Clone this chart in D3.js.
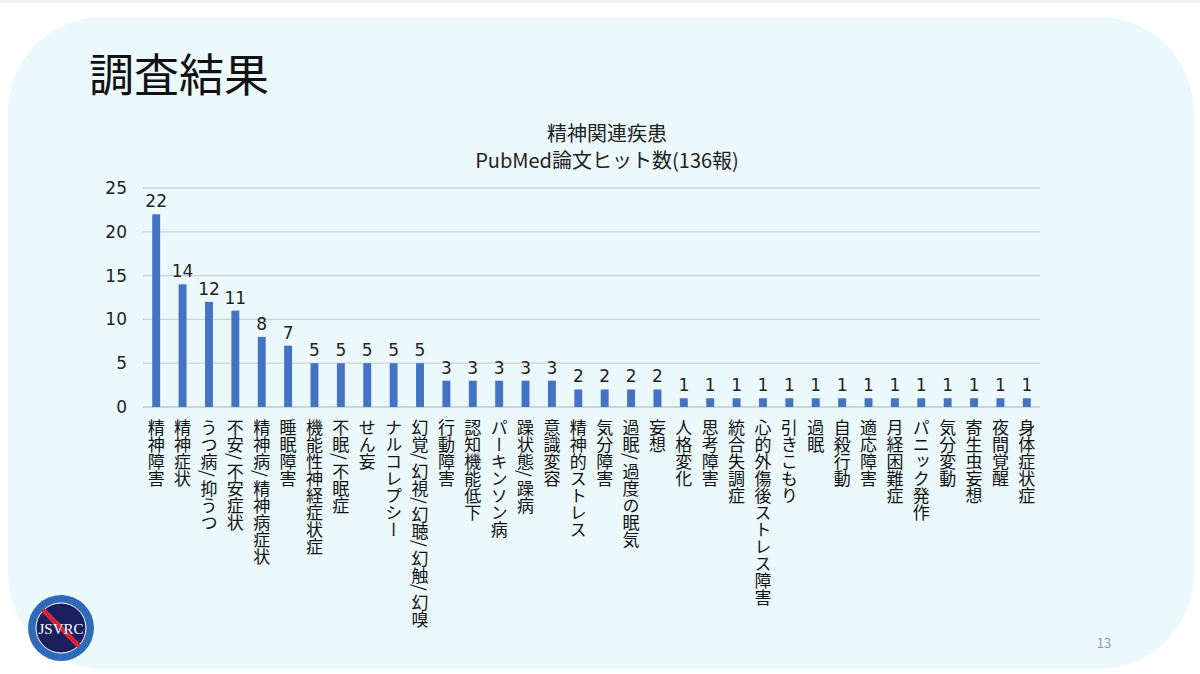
<!DOCTYPE html>
<html>
<head>
<meta charset="utf-8">
<script src="https://cdn.jsdelivr.net/npm/d3@7"></script>
<style>
  html, body { margin: 0; padding: 0; background: #fff; }
  svg { display: block; font-family: "Noto Sans CJK JP", "Noto Sans", sans-serif; }
</style>
</head>
<body>
<div id="chart"></div>
<script>
// data
const categories = [
  "精神障害", "精神症状", "うつ病/抑うつ", "不安/不安症状", "精神病/精神病症状",
  "睡眠障害", "機能性神経症状症", "不眠/不眠症", "せん妄", "ナルコレプシー",
  "幻覚/幻視/幻聴/幻触/幻嗅", "行動障害", "認知機能低下", "パーキンソン病", "躁状態/躁病",
  "意識変容", "精神的ストレス", "気分障害", "過眠/過度の眠気", "妄想",
  "人格変化", "思考障害", "統合失調症", "心的外傷後ストレス障害", "引きこもり",
  "過眠", "自殺行動", "適応障害", "月経困難症", "パニック発作",
  "気分変動", "寄生虫妄想", "夜間覚醒", "身体症状症"
];
const counts = [
  22, 14, 12, 11, 8,
  7, 5, 5, 5, 5,
  5, 3, 3, 3, 3,
  3, 2, 2, 2, 2,
  1, 1, 1, 1, 1,
  1, 1, 1, 1, 1,
  1, 1, 1, 1
];
const yTicks = [0, 5, 10, 15, 20, 25];
const titleLines = ["精神関連疾患", "PubMed論文ヒット数(136報)"];

const W = 1200, H = 674;
const plot = { left: 143, right: 1040, top: 188, bottom: 407 };
const digitFont = "\"DejaVu Sans\", sans-serif";

const svg = d3.select("#chart").append("svg")
  .attr("width", W)
  .attr("height", H);

// slide background
svg.append("rect").attr("x", 0).attr("y", 0).attr("width", W).attr("height", 3).attr("fill", "#f1f1f1");
svg.append("rect")
  .attr("x", 8).attr("y", 17)
  .attr("width", 1186).attr("height", 652)
  .attr("rx", 95).attr("ry", 95)
  .attr("fill", "#ebf9fc");

svg.append("text")
  .attr("x", 89).attr("y", 92)
  .attr("font-size", 45)
  .attr("fill", "#111")
  .text("調査結果");

// chart title, one text per line
svg.append("g")
  .selectAll("text")
  .data(titleLines)
  .enter()
  .append("text")
    .attr("text-anchor", "middle")
    .attr("font-size", 20)
    .attr("fill", "#222")
    .attr("x", 607)
    .attr("y", (d, i) => 141 + i * 27)
    .text(d => d);

const x = d3.scaleBand()
  .domain(categories)
  .range([plot.left, plot.right])
  .paddingInner(0.7)
  .paddingOuter(0.35);

const y = d3.scaleLinear()
  .domain([0, 25])
  .range([plot.bottom, plot.top]);

// gridlines
svg.append("g")
  .selectAll("line")
  .data(yTicks)
  .enter()
  .append("line")
    .attr("x1", plot.left)
    .attr("x2", plot.right)
    .attr("y1", d => y(d))
    .attr("y2", d => y(d))
    .attr("stroke", d => d === 0 ? "#c4c7c9" : "#cdd1d3")
    .attr("stroke-width", 1.3);

// y axis labels
const yAxis = d3.axisLeft(y).tickValues(yTicks).tickSize(0).tickPadding(16);
svg.append("g")
  .attr("transform", `translate(${plot.left},0)`)
  .call(yAxis)
  .call(g => g.select(".domain").remove())
  .selectAll("text")
    .attr("font-size", 17)
    .attr("font-family", digitFont)
    .attr("fill", "#222");

const data = categories.map((c, i) => ({ name: c, value: counts[i] }));

svg.append("g")
  .selectAll("rect")
  .data(data)
  .enter()
  .append("rect")
    .attr("x", d => x(d.name))
    .attr("width", x.bandwidth())
    .attr("y", d => y(d.value))
    .attr("height", d => y(0) - y(d.value))
    .attr("fill", "#4472c4");

svg.append("g")
  .selectAll("text")
  .data(data)
  .enter()
  .append("text")
    .attr("x", d => x(d.name) + x.bandwidth() / 2)
    .attr("y", d => y(d.value) - 7)
    .attr("text-anchor", "middle")
    .attr("font-size", 17)
    .attr("font-family", digitFont)
    .attr("fill", "#222")
    .text(d => d.value);

// category labels, vertical; slashes get a little extra room
const labels = svg.append("g")
  .selectAll("text")
  .data(data)
  .enter()
  .append("text")
    .attr("x", d => x(d.name) + x.bandwidth() / 2)
    .attr("y", 419)
    .style("writing-mode", "vertical-rl")
    .attr("font-size", 17)
    .attr("fill", "#111");

labels.selectAll("tspan")
  .data(d => d.name.split(/(\/)/).filter(s => s.length))
  .enter()
  .append("tspan")
    .style("letter-spacing", s => s === "/" ? "3px" : null)
    .text(s => s);

// logo
const logo = svg.append("g").attr("transform", "translate(61,628)");
logo.append("circle").attr("r", 33).attr("fill", "#2f6ab8");
logo.append("circle").attr("r", 25).attr("fill", "#1b1f5e").attr("stroke", "#fff").attr("stroke-width", 1);
logo.append("line")
  .attr("x1", -18).attr("y1", -18).attr("x2", 18).attr("y2", 18)
  .attr("stroke", "#d0283a").attr("stroke-width", 5);
logo.append("text")
  .attr("text-anchor", "middle")
  .attr("y", 6)
  .attr("font-family", "\"Liberation Serif\", serif")
  .attr("font-size", 15)
  .attr("fill", "#fff")
  .text("JSVRC");

svg.append("text")
  .attr("x", 1104).attr("y", 648)
  .attr("text-anchor", "middle")
  .attr("font-size", 13)
  .attr("fill", "#9a9a9a")
  .text("13");
</script>
</body>
</html>
